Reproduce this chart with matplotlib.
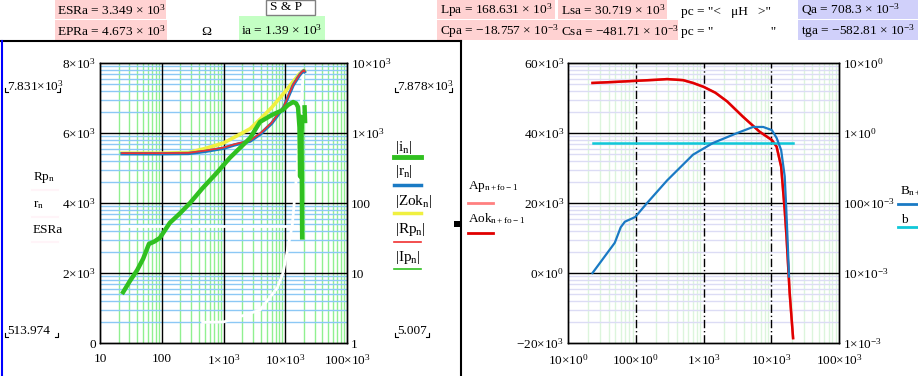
import numpy as np
import matplotlib
matplotlib.use("Agg")
import matplotlib.pyplot as plt
from matplotlib.lines import Line2D
from matplotlib.patches import Rectangle

plt.rcParams["font.family"] = ["Liberation Serif", "DejaVu Serif"]
plt.rcParams["mathtext.fontset"] = "custom"
plt.rcParams["mathtext.rm"] = "Liberation Serif"
plt.rcParams["mathtext.it"] = "Liberation Serif:italic"
plt.rcParams["mathtext.bf"] = "Liberation Serif:bold"

# ---- left chart data (frequency in Hz) ----
f_i = [22.7, 30, 40, 50, 62, 75, 93, 135, 200, 287, 450, 780, 1260, 2700, 3900, 6000,
       9150, 11000, 13400, 15000, 16100, 17000, 17400, 17800, 18300, 18800, np.nan, 20500, 21000]
i_n = [5.0, 7.5, 11, 16, 26, 28, 31.6, 52, 72, 100, 160, 270, 440, 850, 1440, 1800,
       2130, 2500, 2770, 2650, 2350, 1200, 240, 900, 1700, 30, np.nan, 2500, 1380]

f_r = [22.7, 100, 270, 500, 1000, 1500, 2700, 4000, 6000, 9500, 13400, 17000, 19000, 20000, 20500]
Rp_n = [515, 515, 520, 560, 620, 690, 780, 1000, 1400, 2400, 4900, 6800, 7600, 7850, 7600]
r_n = [505, 505, 510, 545, 605, 675, 765, 975, 1370, 2350, 4800, 6700, 7500, 7750, 7500]
Zok_n = [515, 515, 525, 600, 720, 870, 1150, 1600, 2300, 3700, 5400, 7000, 7600, 7850, 7700]

f_w = [460, 1000, 3900, 7400, 9200, 10700, 13000, 15500, 19600]
Rp_lin = [590, 600, 943, 1570, 2000, 2600, 3370, 4940, 7740]
ESRa = 3349.0
f_esr = [22.7, 15500]

# ---- right chart data ----
f_a = [23, 50, 98, 200, 290, 500, 700, 1000, 1500, 2240, 3800, 6700, 10200, 12000,
       14000, 15800, 16800, 18700, 21000]
Aok = [54.3e3, 54.6e3, 54.9e3, 55.2e3, 55.4e3, 55.1e3, 54.3e3, 53.2e3, 51.5e3, 49.0e3,
       44.7e3, 40.4e3, 38.0e3, 36.1e3, 30.4e3, 18.0e3, 10.4e3, -5.7e3, -18.6e3]
f_b = [23, 49, 60, 69, 98, 147, 290, 700, 1380, 3150, 5400, 7600, 10200, 12000, 14000,
       15800, 16600, 17500, 18300]
B_n = [0.01, 0.027, 0.045, 0.054, 0.063, 0.1, 0.21, 0.49, 0.72, 1.0, 1.22, 1.22, 1.1,
       0.85, 0.57, 0.24, 0.089, 0.027, 0.0089]
b_level = 0.72
f_bl = [23, 21000]

# ---- tick labels ----
L_yticks = [0, 2000, 4000, 6000, 8000]
L_ylabels = ["0", r"$2{\times}10^{3}$", r"$4{\times}10^{3}$", r"$6{\times}10^{3}$", r"$8{\times}10^{3}$"]
L_y2ticks = [1, 10, 100, 1000, 10000]
L_y2labels = ["1", "10", "100", r"$1{\times}10^{3}$", r"$10{\times}10^{3}$"]
L_xticks = [10, 100, 1000, 10000, 100000]
L_xlabels = ["10", "100", r"$1{\times}10^{3}$", r"$10{\times}10^{3}$", r"$100{\times}10^{3}$"]
R_yticks = [-20e3, 0, 20e3, 40e3, 60e3]
R_ylabels = [r"$-20{\times}10^{3}$", r"$0{\times}10^{0}$", r"$20{\times}10^{3}$",
             r"$40{\times}10^{3}$", r"$60{\times}10^{3}$"]
R_y2ticks = [1e-3, 1e-2, 1e-1, 1, 10]
R_y2labels = [r"$1{\times}10^{-3}$", r"$10{\times}10^{-3}$", r"$100{\times}10^{-3}$",
              r"$1{\times}10^{0}$", r"$10{\times}10^{0}$"]
R_xlabels = [r"$10{\times}10^{0}$", r"$100{\times}10^{0}$", r"$1{\times}10^{3}$",
             r"$10{\times}10^{3}$", r"$100{\times}10^{3}$"]

W, H = 918, 376
fig = plt.figure(figsize=(W / 100, H / 100), dpi=100)


def fx(x):
    return x / W


def fy(y):
    return 1 - y / H


def box(x0, y0, x1, y1, color, ec="none"):
    fig.patches.append(Rectangle((fx(x0), fy(y1)), fx(x1 - x0), (y1 - y0) / H,
                                 transform=fig.transFigure, fc=color, ec=ec, lw=1, zorder=0))


def ftext(x, y, s, **kw):
    kw.setdefault("fontsize", 9.6)
    kw.setdefault("va", "center")
    fig.text(fx(x), fy(y), s, **kw)


def fline(xs, ys, **kw):
    fig.add_artist(Line2D([fx(v) for v in xs], [fy(v) for v in ys], transform=fig.transFigure, **kw))


# header
pink, green, lav = "#ffd2d2", "#c4ffc4", "#d0d0fa"
box(55, 0, 166, 19, pink)
box(55, 20, 167, 40, pink)
box(239, 16, 325, 40, green)
box(266, 0, 315, 15, "white", ec="#808080")
box(437, 0, 555, 19, pink)
box(558, 0, 667, 19, pink)
box(437, 20, 678, 40, pink)
box(798, 0, 918, 19, lav)
box(798, 20, 918, 40, lav)
ftext(57, 10, r"ESRa = 3.349 × 10$^{3}$")
ftext(57, 31, r"EPRa = 4.673 × 10$^{3}$")
ftext(201, 32, "Ω")
ftext(270, 7, "S & P")
ftext(241, 30, r"ia = 1.39 × 10$^{3}$")
ftext(440, 10, r"Lpa = 168.631 × 10$^{3}$")
ftext(561, 10, r"Lsa = 30.719 × 10$^{3}$")
ftext(440, 31, r"Cpa = −18.757 × 10$^{-3}$")
ftext(561, 31, r"Csa = −481.71 × 10$^{-3}$")
ftext(681, 12, 'pc = "<   μH   >"')
ftext(681, 32, 'pc = "                 "')
ftext(801, 10, r"Qa = 708.3 × 10$^{-3}$")
ftext(801, 31, r"tga = −582.81 × 10$^{-3}$")

fline([0, 461], [41, 41], color="black", lw=1.5)
fline([2, 2], [41, 376], color="#0000ff", lw=1.5)
fline([461, 461], [41, 376], color="black", lw=1.5)
fig.patches.append(Rectangle((fx(454), fy(227)), 6 / W, 6 / H, transform=fig.transFigure,
                             fc="black", ec="none"))


def setup(ax, ax2, xlabels, yticks, ylabels, y2ticks, y2labels, to_left, vmajor_ls,
          vminor_c, hminor_c):
    ax.set_xscale("log")
    ax.set_xlim(10, 1e5)
    ax.set_ylim(yticks[0], yticks[-1])
    ax2.set_yscale("log")
    ax2.set_ylim(y2ticks[0], y2ticks[-1])
    # minor grid
    for d in range(1, 5):
        for m in range(2, 10):
            ax.axvline(m * 10 ** d, color=vminor_c, lw=1, zorder=0)
    for v in y2ticks[:-1]:
        for m in range(2, 10):
            ax.axhline(to_left(v * m), color=hminor_c, lw=1, zorder=0)
    for v in L_xticks[1:-1]:
        ax.axvline(v, color="black", lw=1, ls=vmajor_ls, zorder=0.5)
    for v in yticks[1:-1]:
        ax.axhline(v, color="black", lw=1, zorder=0.5)
    ax.set_xticks(L_xticks)
    ax.set_xticklabels(xlabels)
    ax.minorticks_off()
    ax.set_yticks(yticks)
    ax.set_yticklabels(ylabels)
    ax2.set_yticks(y2ticks)
    ax2.set_yticklabels(y2labels)
    ax2.minorticks_off()
    for a in (ax, ax2):
        a.tick_params(length=0, labelsize=9.5, pad=3)
        for s in a.spines.values():
            s.set_color("black")
            s.set_linewidth(1)
    ax.tick_params(axis="x", pad=7)


# ---- left chart ----
axL = fig.add_axes([fx(100), fy(343), fx(247), 280 / H])
axL2 = axL.twinx()
setup(axL, axL2, L_xlabels, L_yticks, L_ylabels, L_y2ticks, L_y2labels,
      lambda v: np.log10(v) / 4 * 8000, "-", "#90f090", "#8cc8f5")
axL.plot(f_w, Rp_lin, color="white", lw=2, zorder=2)
axL.plot(f_esr, [ESRa, ESRa], color="white", lw=2, zorder=2)
axL2.plot(f_r, Zok_n, color="#f0f040", lw=2.6)
axL2.plot(f_r, r_n, color="#1a7ac4", lw=2.4)
axL2.plot(f_r, Rp_n, color="#f03030", lw=1.2)
axL2.plot(f_i, i_n, color="#30c020", lw=3.2, solid_capstyle="butt")

# left-chart legends
leg = [(r"$|\mathrm{i}_{\mathrm{n}}|$", 147, 157, "#30c020", 3.5),
       (r"$|\mathrm{r}_{\mathrm{n}}|$", 172, 185, "#1a7ac4", 2.5),
       (r"$|\mathrm{Zok}_{\mathrm{n}}|$", 202, 213, "#f0f040", 2.5),
       (r"$|\mathrm{Rp}_{\mathrm{n}}|$", 230, 242, "#f03030", 1.2),
       (r"$|\mathrm{Ip}_{\mathrm{n}}|$", 257, 269, "#30c020", 1.2)]
for s, yt, yl, c, lw in leg:
    ftext(395, yt, s, fontsize=11)
    fline([394, 421], [yl, yl], color=c, lw=lw)
for s, yt in [(r"$\mathrm{Rp}_{\mathrm{n}}$", 178), (r"$\mathrm{r}_{\mathrm{n}}$", 205),
              (r"ESRa", 230)]:
    ftext(33, yt, s, fontsize=9.5)
    fline([32, 58], [yt + 12, yt + 12], color="#fff4f8", lw=1.5)

for s, x, y in [(r"7.831×10$^{3}$", 7, 86), ("513.974", 7, 331),
                (r"7.878×10$^{3}$", 397, 86), ("5.007", 397, 331)]:
    fig.text(fx(x), fy(y), s, fontsize=9.5, va="center")
for x0, x1, y in [(5, 60, 92), (5, 58, 337), (395, 452, 92), (395, 429, 337)]:
    fline([x0, x0, x0 + 3], [y - 4, y, y], color="black", lw=0.8)
    fline([x1 - 3, x1, x1], [y, y, y - 4], color="black", lw=0.8)

# ---- right chart ----
axR = fig.add_axes([fx(568), fy(343), fx(271), 280 / H])
axR2 = axR.twinx()
setup(axR, axR2, R_xlabels, R_yticks, R_ylabels, R_y2ticks, R_y2labels,
      lambda v: -20e3 + (np.log10(v) + 3) / 4 * 80e3, (0, (6, 2, 1, 2)), "#dcf5dc", "#dcdcf5")
axR.plot(f_a, Aok, color="#ff8080", lw=1.8, zorder=2)
axR.plot(f_a, Aok, color="#e00000", lw=1.8, zorder=2)
axR2.plot(f_bl, [b_level, b_level], color="#10c8d8", lw=1.8)
axR2.plot(f_b, B_n, color="#1a7ac4", lw=1.6)

ftext(468, 187, r"$\mathrm{Ap}_{\mathrm{n+fo-1}}$", fontsize=9.5)
fline([468, 493], [203, 203], color="#ff8080", lw=2)
ftext(468, 219, r"$\mathrm{Aok}_{\mathrm{n+fo-1}}$", fontsize=9.5)
fline([468, 493], [233, 233], color="#e00000", lw=2)
ftext(900, 191, r"$\mathrm{B}_{\mathrm{n+}}$", fontsize=9.5)
fline([898, 918], [204, 204], color="#1a7ac4", lw=2)
ftext(901, 220, "b", fontsize=9.5)
fline([898, 918], [227, 227], color="#10c8d8", lw=2)

fig.savefig("out.png", dpi=100)
